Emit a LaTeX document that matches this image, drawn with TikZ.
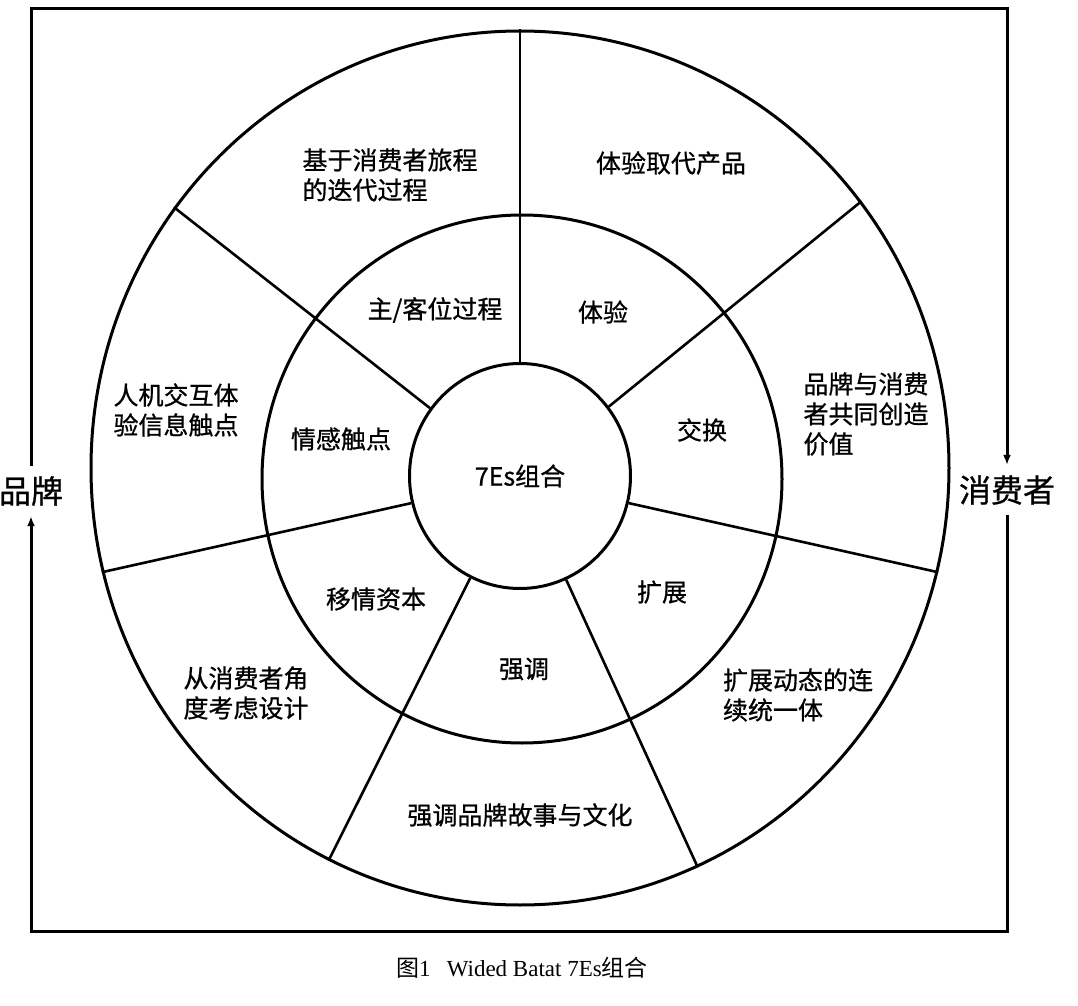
\documentclass[tikz,border=0pt]{standalone}
\usepackage{fontspec}
\setmainfont{Liberation Serif}
\newfontfamily\cjk{Noto Sans CJK SC}[FakeBold=0.8]
\newfontfamily\cjkcap{Noto Sans CJK SC}
\usepackage{tikz}
\usetikzlibrary{shapes.geometric, arrows.meta}
\tikzstyle{ring} = [ellipse, draw=black, line width=1.5pt, inner sep=0pt]
\tikzstyle{spoke} = [line width=1.3pt]
\tikzstyle{sector} = [font=\cjk\fontsize{12.5pt}{15pt}\selectfont, align=left, inner sep=0pt]
\tikzstyle{side} = [font=\cjk\fontsize{16pt}{19pt}\selectfont, inner sep=5pt]
\tikzstyle{arrow} = [line width=1.5pt, ->, >={Latex[length=5pt, width=4pt]}]

\begin{document}
\begin{tikzpicture}[x=0.5pt, y=-0.5pt]
    \useasboundingbox (0,0) rectangle (1078,1006);

    % Rings
    \node (rim) [ring, minimum width=429pt, minimum height=437pt] at (520,468) {};
    \node (mid) [ring, minimum width=260pt, minimum height=264pt] at (522,479) {};
    \node (core) [ring, sector, minimum width=110.5pt, minimum height=112.5pt] at (520,476) {7Es组合};

    \foreach \a in {90,38,346,294,244,194,143}
        \draw [spoke] (core.\a) -- (rim.\a);

    % Inner labels
    \node (process) [sector] at (435,310) {主/客位过程};
    \node (exp) [sector] at (603,312) {体验};
    \node (exchange) [sector] at (702,430) {交换};
    \node (extend) [sector] at (662,592) {扩展};
    \node (emph) [sector] at (524,669) {强调};
    \node (empathy) [sector] at (376,599) {移情资本};
    \node (emotion) [sector] at (341,439) {情感触点};

    % Outer labels
    \node (journey) [sector] at (390,175) {基于消费者旅程\\的迭代过程};
    \node (replace) [sector] at (671,163) {体验取代产品};
    \node (cocreate) [sector] at (866,414) {品牌与消费\\者共同创造\\价值};
    \node (continuum) [sector] at (798,695) {扩展动态的连\\续统一体};
    \node (story) [sector] at (520,815) {强调品牌故事与文化};
    \node (design) [sector] at (246,693) {从消费者角\\度考虑设计};
    \node (hci) [sector] at (176,410) {人机交互体\\验信息触点};

    % Sides
    \node (brand) [side] at (31,491) {品牌};
    \node (consumer) [side] at (1007,490) {消费者};

    \coordinate (tl) at (31,9);
    \coordinate (tr) at (1007,9);
    \coordinate (br) at (1007,931);
    \coordinate (bl) at (31,931);

    % Arrows
    \draw [arrow] (brand) -- (tl) -- (tr) -- (consumer);
    \draw [arrow] (consumer) -- (br) -- (bl) -- (brand);

    % Caption
    \node (caption) [font=\fontsize{11.5pt}{13pt}\selectfont] at (522,968) {{\cjkcap 图}1\hspace{0.7em}Wided Batat 7Es{\cjkcap 组合}};

\end{tikzpicture}
\end{document}
